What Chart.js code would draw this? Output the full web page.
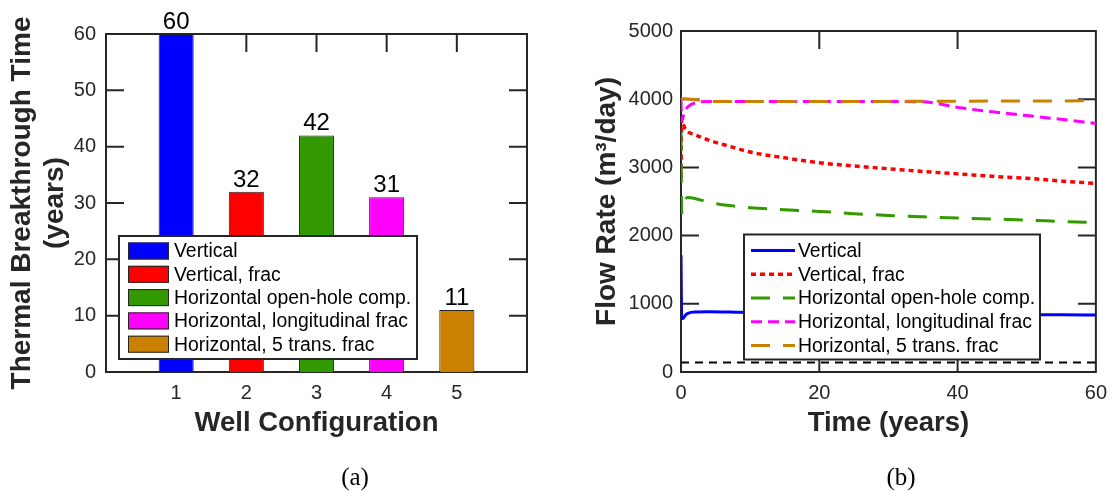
<!DOCTYPE html>
<html>
<head>
<meta charset="utf-8">
<title>Well configurations</title>
<script src="https://cdn.jsdelivr.net/npm/chart.js@4.4.1/dist/chart.umd.min.js"></script>
<style>
  html, body { margin: 0; padding: 0; background: #fff; }
  #wrap { position: relative; width: 1116px; height: 491px; overflow: hidden; }
  #breakthrough { position: absolute; left: 0; top: 0; }
  #flowrate { position: absolute; left: 560px; top: 0; }
  .panel-tag {
    position: absolute; top: 464px; width: 60px; text-align: center;
    font: 25px "Liberation Serif", "Times New Roman", serif; line-height: 25px; color: #000;
  }
</style>
</head>
<body>
<div id="wrap">
  <canvas id="breakthrough" width="560" height="491"></canvas>
  <canvas id="flowrate" width="556" height="491"></canvas>
  <div class="panel-tag" style="left:325px">(a)</div>
  <div class="panel-tag" style="left:871px">(b)</div>
</div>
<script>
// Well configurations and thermal breakthrough time
const configNames = ["Vertical", "Vertical, frac", "Horizontal open-hole comp.", "Horizontal, longitudinal frac", "Horizontal, 5 trans. frac"]
const configNumbers = [1, 2, 3, 4, 5]
const breakthroughYears = [60, 32, 42, 31, 11]
const configColors = ["#0000ff", "#ff0000", "#339900", "#ff00ff", "#cc8000"]

// Production flow rate over time (m3/day)
const timeYears = [0, 0.1, 0.3, 0.6, 1, 2, 4, 7, 10, 15, 20, 25, 30, 35, 40, 45, 50, 55, 60]
const flowVertical = [1710, 790, 785, 830, 860, 880, 882, 878, 874, 868, 864, 860, 856, 852, 849, 846, 842, 838, 835]
const flowVerticalFrac = [2850, 3700, 3640, 3570, 3520, 3480, 3400, 3310, 3225, 3140, 3068, 3020, 2980, 2940, 2905, 2870, 2840, 2800, 2765]
const flowOpenHole = [3520, 2330, 2450, 2530, 2560, 2545, 2490, 2440, 2410, 2380, 2355, 2322, 2295, 2275, 2258, 2243, 2228, 2208, 2190]
const flowLongFrac = [3990, 3680, 3740, 3830, 3890, 3945, 3965, 3965, 3965, 3965, 3965, 3965, 3965, 3962, 3880, 3815, 3760, 3705, 3645]
const flowTransFrac = [4005, 4005, 4005, 4005, 4003, 3995, 3968, 3965, 3965, 3965, 3966, 3967, 3968, 3970, 3971, 3972, 3973, 3975, 3976]
const flowLimitTimes = [0, 60]
const flowLimitRates = [140, 140]

const axisColor = "#262626"
const sansFamily = "'Liberation Sans', Arial, Helvetica, sans-serif"
const tickLen = 18
const tickFont = { family: sansFamily, size: 20 }

// line style per flow series
const lineStyles = [
    { color: configColors[0], width: 3, dash: [] },
    { color: configColors[1], width: 3.5, dash: [5, 4] },
    { color: configColors[2], width: 3, dash: [19, 13] },
    { color: configColors[3], width: 3, dash: [11, 6] },
    { color: configColors[4], width: 3, dash: [19, 13] },
]

// Box around the plot area with inward ticks on all four sides
const boxAxes = {
    id: "boxAxes",
    beforeDatasetsDraw(chart) {
        const { ctx, chartArea: a, scales: { x, y } } = chart
        ctx.save()
        ctx.strokeStyle = axisColor
        ctx.lineWidth = 2
        ctx.beginPath()
        x.ticks.forEach((t) => {
            const px = x.getPixelForValue(t.value)
            if (px <= a.left + 1 || px >= a.right - 1) return
            ctx.moveTo(px, a.bottom)
            ctx.lineTo(px, a.bottom - tickLen)
            ctx.moveTo(px, a.top)
            ctx.lineTo(px, a.top + tickLen)
        })
        y.ticks.forEach((t) => {
            const py = y.getPixelForValue(t.value)
            if (py <= a.top + 1 || py >= a.bottom - 1) return
            ctx.moveTo(a.left, py)
            ctx.lineTo(a.left + tickLen, py)
            ctx.moveTo(a.right, py)
            ctx.lineTo(a.right - tickLen, py)
        })
        ctx.stroke()
        ctx.strokeRect(a.left, a.top, a.right - a.left, a.bottom - a.top)
        ctx.restore()
    },
}

// Numbers above the bars
const barValues = {
    id: "barValues",
    afterDatasetsDraw(chart) {
        const { ctx } = chart
        const meta = chart.getDatasetMeta(0)
        ctx.save()
        ctx.font = `24px ${sansFamily}`
        ctx.fillStyle = "#000"
        ctx.textAlign = "center"
        ctx.textBaseline = "alphabetic"
        meta.data.forEach((bar, i) => {
            ctx.fillText(String(breakthroughYears[i]), bar.x, bar.y - 5)
        })
        ctx.restore()
    },
}

// Boxed legend sitting inside the plot area
const boxLegend = {
    id: "boxLegend",
    afterDraw(chart, args, opts) {
        const { ctx, chartArea: a } = chart
        const left = a.left + opts.offsetX
        const top = a.bottom - opts.offsetY - opts.height
        ctx.save()
        ctx.fillStyle = "#fff"
        ctx.fillRect(left, top, opts.width, opts.height)
        ctx.strokeStyle = axisColor
        ctx.lineWidth = 2
        ctx.strokeRect(left, top, opts.width, opts.height)
        ctx.font = `19.4px ${sansFamily}`
        ctx.textBaseline = "middle"
        opts.items.forEach((item, i) => {
            const cy = top + opts.firstRow + i * opts.rowGap
            const sx = left + opts.sampleX
            if (item.kind === "swatch") {
                ctx.fillStyle = item.color
                ctx.fillRect(sx, cy - 8.5, opts.sampleW, 17)
                ctx.lineWidth = 1
                ctx.strokeStyle = axisColor
                ctx.strokeRect(sx + 0.5, cy - 8, opts.sampleW - 1, 16)
            } else {
                ctx.strokeStyle = item.color
                ctx.lineWidth = item.width
                ctx.setLineDash(item.dash)
                ctx.beginPath()
                ctx.moveTo(sx, cy)
                ctx.lineTo(sx + opts.sampleW, cy)
                ctx.stroke()
                ctx.setLineDash([])
            }
            ctx.fillStyle = "#000"
            ctx.fillText(item.label, sx + opts.sampleW + opts.textGap, cy + 1)
        })
        ctx.restore()
    },
}

// (a) Thermal breakthrough time per well configuration
new Chart(document.getElementById("breakthrough"), {
    type: "bar",
    data: {
        datasets: [
            {
                data: configNumbers.map((n, i) => ({ x: n, y: breakthroughYears[i] })),
                backgroundColor: configColors,
                borderColor: axisColor,
                borderWidth: 1,
                barPercentage: 0.5,
                categoryPercentage: 1,
            },
        ],
    },
    options: {
        responsive: false,
        animation: false,
        layout: { padding: { top: 34, right: 33, left: 0, bottom: 0 } },
        plugins: {
            legend: { display: false },
            tooltip: { enabled: false },
            boxLegend: {
                offsetX: 13, offsetY: 13, width: 298, height: 123,
                sampleX: 9, sampleW: 41, textGap: 5, firstRow: 15, rowGap: 23.3,
                items: configNames.map((name, i) => ({ kind: "swatch", label: name, color: configColors[i] })),
            },
        },
        scales: {
            x: {
                type: "linear",
                min: 0,
                max: 6,
                offset: false,
                grid: { display: false, drawTicks: false, offset: false },
                border: { display: false },
                ticks: {
                    stepSize: 1,
                    padding: 9,
                    color: axisColor,
                    font: tickFont,
                    callback: (v) => (v >= 1 && v <= 5 ? String(v) : ""),
                },
                title: {
                    display: true,
                    text: "Well Configuration",
                    color: axisColor,
                    font: { family: sansFamily, size: 27.5, weight: "bold", lineHeight: 1.2 },
                    padding: { top: 0, bottom: 51.5 },
                },
                afterFit: (scale) => { scale.height = 119 },
            },
            y: {
                min: 0,
                max: 60,
                grid: { display: false, drawTicks: false },
                border: { display: false },
                ticks: { stepSize: 10, padding: 10, color: axisColor, font: tickFont, callback: (v) => String(v) },
                title: {
                    display: true,
                    text: ["Thermal Breakthrough Time", "(years)"],
                    color: axisColor,
                    font: { family: sansFamily, size: 28, weight: "bold", lineHeight: 1.18 },
                    padding: { top: 5.5, bottom: 0 },
                },
                afterFit: (scale) => { scale.width = 106 },
            },
        },
    },
    plugins: [boxAxes, barValues, boxLegend],
})

// (b) Flow rate history for each configuration
const flowSeries = [flowVertical, flowVerticalFrac, flowOpenHole, flowLongFrac, flowTransFrac]

const flowDatasets = flowSeries.map((values, i) => ({
    label: configNames[i],
    data: values,
    borderColor: lineStyles[i].color,
    borderWidth: lineStyles[i].width,
    borderDash: lineStyles[i].dash,
    pointRadius: 0,
    fill: false,
    cubicInterpolationMode: "monotone",
    order: 6 - i,
}))

flowDatasets.push({
    label: "limit",
    data: flowLimitTimes.map((t, i) => ({ x: t, y: flowLimitRates[i] })),
    borderColor: "#000",
    borderWidth: 2,
    borderDash: [8, 6],
    pointRadius: 0,
    fill: false,
    order: 0,
})

new Chart(document.getElementById("flowrate"), {
    type: "line",
    data: { labels: timeYears, datasets: flowDatasets },
    options: {
        responsive: false,
        animation: false,
        layout: { padding: { top: 31, right: 13, left: 0, bottom: 0 } },
        plugins: {
            legend: { display: false },
            tooltip: { enabled: false },
            boxLegend: {
                offsetX: 63, offsetY: 12.5, width: 296, height: 125,
                sampleX: 7, sampleW: 44, textGap: 3, firstRow: 16, rowGap: 23.75,
                items: configNames.map((name, i) => ({
                    kind: "line", label: name,
                    color: lineStyles[i].color, width: lineStyles[i].width, dash: lineStyles[i].dash,
                })),
            },
        },
        scales: {
            x: {
                type: "linear",
                min: 0,
                max: 60,
                grid: { display: false, drawTicks: false },
                border: { display: false },
                ticks: { stepSize: 20, padding: 9, color: axisColor, font: tickFont, callback: (v) => String(v) },
                title: {
                    display: true,
                    text: "Time (years)",
                    color: axisColor,
                    font: { family: sansFamily, size: 27.5, weight: "bold", lineHeight: 1.2 },
                    padding: { top: 0, bottom: 51.5 },
                },
                afterFit: (scale) => { scale.height = 119 },
            },
            y: {
                min: 0,
                max: 5000,
                grid: { display: false, drawTicks: false },
                border: { display: false },
                ticks: { stepSize: 1000, padding: 8, color: axisColor, font: tickFont, callback: (v) => String(v) },
                title: {
                    display: true,
                    text: "Flow Rate (m³/day)",
                    color: axisColor,
                    font: { family: sansFamily, size: 28, weight: "bold", lineHeight: 1.2 },
                    padding: { top: 30.8, bottom: 0 },
                },
                afterFit: (scale) => { scale.width = 121 },
            },
        },
    },
    plugins: [boxAxes, boxLegend],
})
</script>
</body>
</html>
